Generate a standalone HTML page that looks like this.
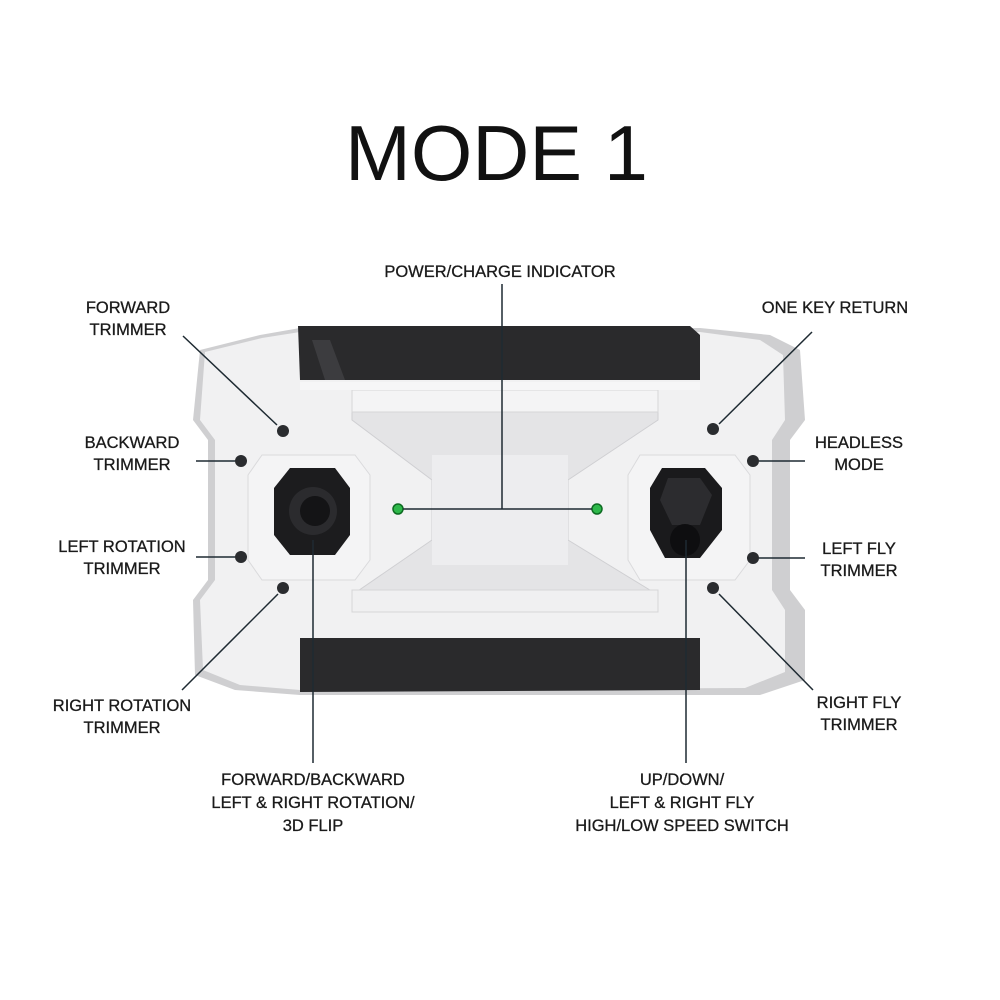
<!DOCTYPE html>
<html><head><meta charset="utf-8"><style>
html,body{margin:0;padding:0;background:#fff;}
svg{display:block;}
text{font-family:"Liberation Sans",sans-serif;fill:#1a1a1a;}
</style></head><body>
<svg width="1000" height="1000" viewBox="0 0 1000 1000" xmlns="http://www.w3.org/2000/svg">
<rect width="1000" height="1000" fill="#fff"/>
<text x="345" y="180" font-size="78" textLength="303" lengthAdjust="spacingAndGlyphs" style="fill:#111">MODE 1</text>

<!-- controller body -->
<path d="M200,350 L260,335 L300,328 L700,328 L770,335 L800,350 L805,420 L790,440 L790,590 L805,610 L805,680 L760,695 L700,695 L300,695 L235,690 L195,675 L193,600 L208,580 L208,440 L193,420 Z" fill="#cfcfd1"/>
<path d="M205,352 L262,338 L300,332 L700,332 L760,340 L783,355 L785,420 L772,440 L772,590 L785,610 L785,672 L745,688 L300,690 L240,685 L203,670 L200,600 L215,580 L215,440 L200,420 Z" fill="#f1f1f2"/>
<!-- black bars -->
<path d="M298,326 L690,326 L700,335 L700,380 L300,380 Z" fill="#2a2a2c"/>
<path d="M312,340 L330,340 L345,380 L325,380 Z" fill="#3c3c3f"/>
<path d="M300,638 L700,638 L700,690 L300,692 Z" fill="#2a2a2c"/>
<!-- inner tray -->
<path d="M352,390 L658,390 L658,420 L568,480 L568,540 L658,595 L658,612 L352,612 L352,595 L432,540 L432,480 L352,420 Z" fill="#e4e4e6" stroke="#cfcfd2"/>
<rect x="352" y="390" width="306" height="22" fill="#f4f4f5" stroke="#d6d6d8"/>
<rect x="352" y="590" width="306" height="22" fill="#f0f0f1" stroke="#d6d6d8"/>
<rect x="432" y="455" width="136" height="110" fill="#ededef"/>
<rect x="300" y="382" width="400" height="8" fill="#f6f6f7"/>
<!-- joystick pads -->
<path d="M262,455 L355,455 L370,475 L370,560 L355,580 L262,580 L248,560 L248,475 Z" fill="#f4f4f5" stroke="#dadadc"/>
<path d="M640,455 L735,455 L750,475 L750,560 L735,580 L640,580 L628,560 L628,475 Z" fill="#f4f4f5" stroke="#dadadc"/>
<!-- left stick -->
<path d="M290,468 L335,468 L350,488 L350,535 L335,555 L290,555 L274,535 L274,488 Z" fill="#1c1c1e"/>
<circle cx="313" cy="511" r="24" fill="#2b2b2e"/>
<circle cx="315" cy="511" r="15" fill="#141416"/>
<!-- right stick -->
<path d="M662,468 L705,468 L722,488 L722,530 L700,558 L665,558 L650,530 L650,488 Z" fill="#1a1a1c"/>
<path d="M668,478 L700,478 L712,495 L700,525 L672,525 L660,500 Z" fill="#2c2c2f"/>
<ellipse cx="685" cy="540" rx="15" ry="16" fill="#0e0e10"/>
<!-- LEDs -->
<circle cx="398" cy="509" r="5" fill="#2eb84a" stroke="#0d6b22" stroke-width="1.5"/>
<circle cx="597" cy="509" r="5" fill="#2eb84a" stroke="#0d6b22" stroke-width="1.5"/>
<!-- buttons -->
<g fill="#2a2c2f">
<circle cx="283" cy="431" r="6"/><circle cx="241" cy="461" r="6"/>
<circle cx="241" cy="557" r="6"/><circle cx="283" cy="588" r="6"/>
<circle cx="713" cy="429" r="6"/><circle cx="753" cy="461" r="6"/>
<circle cx="753" cy="558" r="6"/><circle cx="713" cy="588" r="6"/>
</g>
<!-- connectors -->
<g stroke="#1e2a32" stroke-width="1.5" fill="none">
<line x1="183" y1="336" x2="277" y2="425"/>
<line x1="196" y1="461" x2="235" y2="461"/>
<line x1="196" y1="557" x2="235" y2="557"/>
<line x1="182" y1="690" x2="278" y2="594"/>
<line x1="313" y1="540" x2="313" y2="763"/>
<line x1="686" y1="540" x2="686" y2="763"/>
<line x1="502" y1="284" x2="502" y2="509"/>
<line x1="403" y1="509" x2="592" y2="509"/>
<line x1="812" y1="332" x2="719" y2="424"/>
<line x1="759" y1="461" x2="805" y2="461"/>
<line x1="759" y1="558" x2="805" y2="558"/>
<line x1="719" y1="594" x2="813" y2="690"/>
</g>
<!-- labels -->
<g font-size="16.5" text-anchor="middle" stroke="#1a1a1a" stroke-width="0.3">
<text x="500" y="277">POWER/CHARGE INDICATOR</text>
<text x="128" y="313">FORWARD</text><text x="128" y="335">TRIMMER</text>
<text x="132" y="448">BACKWARD</text><text x="132" y="470">TRIMMER</text>
<text x="122" y="552">LEFT ROTATION</text><text x="122" y="574">TRIMMER</text>
<text x="122" y="711">RIGHT ROTATION</text><text x="122" y="733">TRIMMER</text>
<text x="835" y="313">ONE KEY RETURN</text>
<text x="859" y="448">HEADLESS</text><text x="859" y="470">MODE</text>
<text x="859" y="554">LEFT FLY</text><text x="859" y="576">TRIMMER</text>
<text x="859" y="708">RIGHT FLY</text><text x="859" y="730">TRIMMER</text>
<text x="313" y="785">FORWARD/BACKWARD</text>
<text x="313" y="808">LEFT &amp; RIGHT ROTATION/</text>
<text x="313" y="831">3D FLIP</text>
<text x="682" y="785">UP/DOWN/</text>
<text x="682" y="808">LEFT &amp; RIGHT FLY</text>
<text x="682" y="831">HIGH/LOW SPEED SWITCH</text>
</g>
</svg>
</body></html>
